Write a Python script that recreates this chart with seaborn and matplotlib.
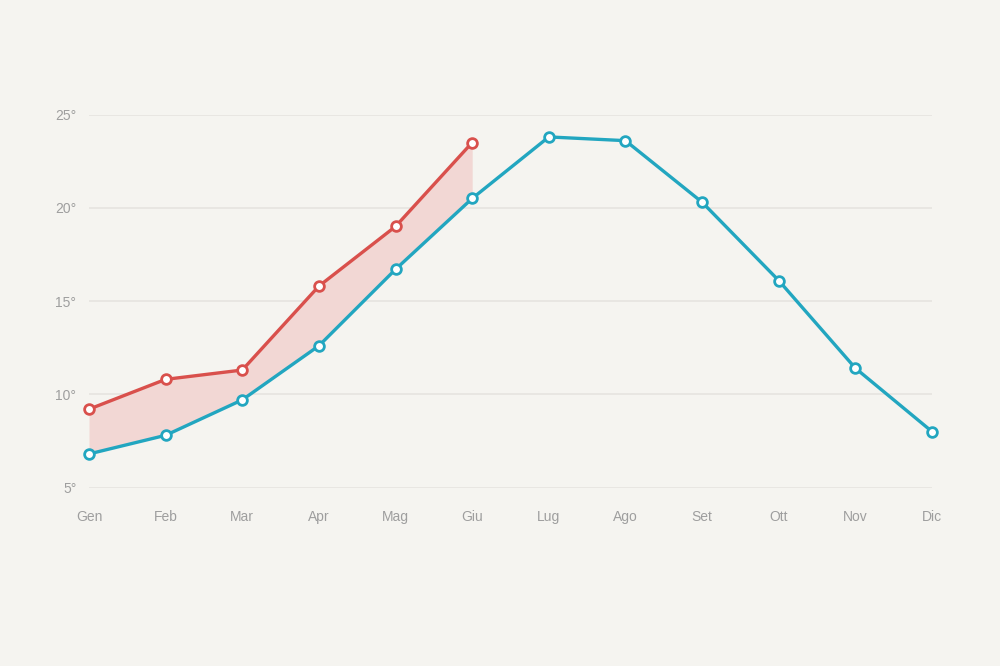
import numpy as np
import pandas as pd
import matplotlib
matplotlib.use("Agg")
import matplotlib.pyplot as plt
import seaborn as sns

MONTHS = ["Gen", "Feb", "Mar", "Apr", "Mag", "Giu", "Lug", "Ago", "Set", "Ott", "Nov", "Dic"]
RED_VALUES = [9.2, 10.8, 11.3, 15.8, 19.0, 23.5]
BLUE_VALUES = [6.8, 7.8, 9.7, 12.6, 16.7, 20.5, 23.8, 23.6, 20.3, 16.1, 11.4, 8.0]
Y_TICKS = [5, 10, 15, 20, 25]

BG = "#f5f4f0"
RED = "#d9504c"
BLUE = "#22a6c0"
FILL = "#f2d7d4"

sns.set_theme(style="white")
plt.rcParams["font.family"] = ["Liberation Sans", "DejaVu Sans"]

blue_df = pd.DataFrame({"x": np.arange(len(BLUE_VALUES)), "t": BLUE_VALUES})
red_df = pd.DataFrame({"x": np.arange(len(RED_VALUES)), "t": RED_VALUES})

fig = plt.figure(figsize=(10, 6.66), dpi=100, facecolor=BG)
ax = fig.add_axes([0.089, 0.268, 0.843, 0.56])
ax.set_facecolor(BG)

for y in Y_TICKS:
    ax.axhline(y, color="#e6e4e0", lw=1.2, zorder=0)

# area between the two series for the months where both exist
ax.fill_between(red_df["x"], red_df["t"], blue_df["t"][: len(RED_VALUES)],
                color=FILL, lw=0, zorder=1)

marker_kw = dict(marker="o", markersize=7, markerfacecolor="white",
                 markeredgewidth=2, linewidth=2.4, clip_on=False)
sns.lineplot(data=blue_df, x="x", y="t", ax=ax, color=BLUE,
             markeredgecolor=BLUE, zorder=3, **marker_kw)
sns.lineplot(data=red_df, x="x", y="t", ax=ax, color=RED,
             markeredgecolor=RED, zorder=4, **marker_kw)

ax.set_xlim(0, len(MONTHS) - 1)
ax.set_ylim(5, 25)
ax.set_xticks(range(len(MONTHS)))
ax.set_xticklabels(MONTHS)
ax.set_yticks(Y_TICKS)
ax.set_yticklabels([f"{v}°" for v in Y_TICKS])
ax.tick_params(axis="x", length=0, pad=16, labelsize=10, labelcolor="#9e9e9e")
ax.tick_params(axis="y", length=0, pad=9, labelsize=10, labelcolor="#9e9e9e")
ax.set_xlabel("")
ax.set_ylabel("")
sns.despine(ax=ax, left=True, bottom=True)

fig.savefig("out.png", dpi=100, facecolor=BG)
